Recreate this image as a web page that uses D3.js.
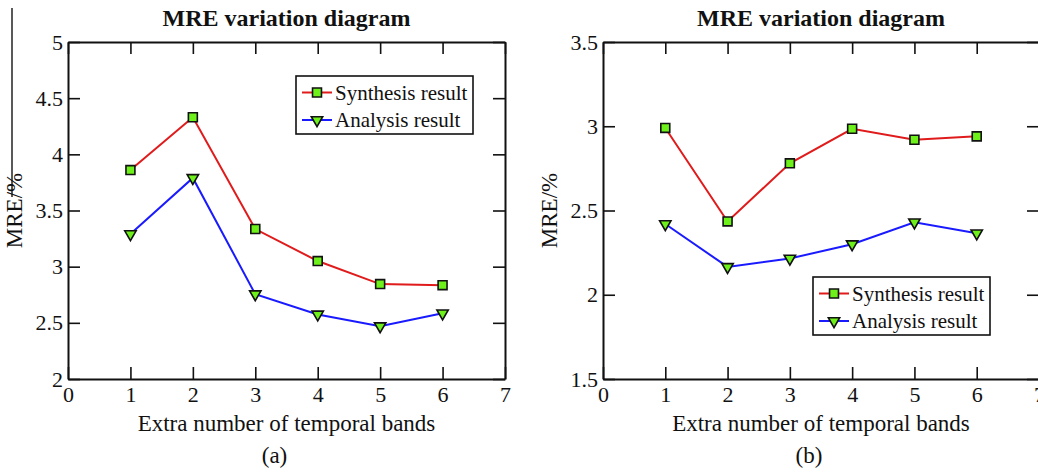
<!DOCTYPE html>
<html>
<head>
<meta charset="utf-8">
<script src="https://cdn.jsdelivr.net/npm/d3@7"></script>
<style>
  body { margin: 0; background: #fff; }
  svg text { font-family: "Liberation Serif", "Times New Roman", serif; fill: #111; }
</style>
</head>
<body>
<div id="chart"></div>
<script>
// values
const bands = [1, 2, 3, 4, 5, 6];
const xTicks = [0, 1, 2, 3, 4, 5, 6, 7];

const synthesisA = [3.86, 4.33, 3.335, 3.05, 2.845, 2.835];
const analysisA = [3.29, 3.79, 2.755, 2.575, 2.47, 2.585];
const yTicksA = [2, 2.5, 3, 3.5, 4, 4.5, 5];

const synthesisB = [2.99, 2.435, 2.78, 2.985, 2.92, 2.94];
const analysisB = [2.42, 2.165, 2.215, 2.30, 2.43, 2.365];
const yTicksB = [1.5, 2, 2.5, 3, 3.5];

const seriesNames = ["Synthesis result", "Analysis result"];
const seriesColors = ["#e01b1b", "#1a1aff"];
const markerFill = "#6ef01a";

const svg = d3.select("#chart").append("svg")
    .attr("width", 1038)
    .attr("height", 473);

// stray frame line at the far left of the original figure
svg.append("line")
    .attr("x1", 12).attr("x2", 12)
    .attr("y1", 8).attr("y2", 197)
    .attr("stroke", "#222")
    .attr("stroke-width", 1.5);

const squareSym = d3.symbol().type(d3.symbolSquare).size(80);
const triSym = d3.symbol().type(d3.symbolTriangle).size(56);

function drawMarker(g, kind, x, y) {
    g.append("path")
        .attr("d", kind === 0 ? squareSym() : triSym())
        .attr("transform", `translate(${x},${y})` + (kind === 1 ? " rotate(180)" : ""))
        .attr("fill", markerFill)
        .attr("stroke", "#111")
        .attr("stroke-width", 1.6);
}

function drawPanel(cfg) {
    const g = svg.append("g");
    const x = d3.scaleLinear().domain([0, 7]).range([cfg.left, cfg.right]);
    const y = d3.scaleLinear().domain(cfg.yDomain).range([379, 42]);

    // bottom axis with labels, ticks pointing inward
    const bottom = g.append("g")
        .attr("transform", `translate(0,${y.range()[0]})`)
        .call(d3.axisBottom(x).tickValues(xTicks).tickSizeInner(-12).tickSizeOuter(0).tickPadding(7)
            .tickFormat(d3.format("d")));
    const left = g.append("g")
        .attr("transform", `translate(${cfg.left},0)`)
        .call(d3.axisLeft(y).tickValues(cfg.yTicks).tickSizeInner(-12).tickSizeOuter(0).tickPadding(5)
            .tickFormat(d3.format("")));
    const top = g.append("g")
        .attr("transform", `translate(0,${y.range()[1]})`)
        .call(d3.axisTop(x).tickValues(xTicks).tickSizeInner(-12).tickSizeOuter(0).tickFormat(""));
    const right = g.append("g")
        .attr("transform", `translate(${cfg.right},0)`)
        .call(d3.axisRight(y).tickValues(cfg.yTicks).tickSizeInner(-12).tickSizeOuter(0).tickFormat(""));

    [bottom, left, top, right].forEach(a => {
        a.attr("font-family", null).attr("font-size", null);
        a.select(".domain").attr("stroke", "#111").attr("stroke-width", 2);
        a.selectAll(".tick line").attr("stroke", "#111").attr("stroke-width", 1.6);
        a.selectAll("text").style("font-size", "22px").attr("fill", "#111");
    });

    // lines + markers
    const line = d3.line().x((d, i) => x(bands[i])).y(d => y(d));
    cfg.series.forEach((vals, k) => {
        g.append("path")
            .datum(vals)
            .attr("fill", "none")
            .attr("stroke", seriesColors[k])
            .attr("stroke-width", 2)
            .attr("d", line);
    });
    cfg.series.forEach((vals, k) => {
        vals.forEach((v, i) => drawMarker(g, k, x(bands[i]), y(v)));
    });

    // title
    const cx = (cfg.left + cfg.right) / 2;
    g.append("text")
        .attr("x", cx).attr("y", 26)
        .attr("text-anchor", "middle")
        .style("font-size", "24px")
        .style("font-weight", "bold")
        .text("MRE variation diagram");

    g.append("text")
        .attr("x", cx).attr("y", 431)
        .attr("text-anchor", "middle")
        .style("font-size", "23px")
        .text("Extra number of temporal bands");

    g.append("text")
        .attr("transform", `translate(${cfg.left - 46},${(y.range()[0] + y.range()[1]) / 2}) rotate(-90)`)
        .attr("text-anchor", "middle")
        .style("font-size", "23px")
        .text("MRE/%");

    g.append("text")
        .attr("x", cx - 12).attr("y", 463)
        .attr("text-anchor", "middle")
        .style("font-size", "23px")
        .text(cfg.caption);

    // legend
    const lg = g.append("g").attr("transform", `translate(${cfg.legend[0]},${cfg.legend[1]})`);
    lg.append("rect")
        .attr("width", 177).attr("height", 58)
        .attr("fill", "#fff")
        .attr("stroke", "#111")
        .attr("stroke-width", 1.6);
    seriesNames.forEach((name, k) => {
        const ry = 16.5 + k * 27.5;
        lg.append("line")
            .attr("x1", 6).attr("x2", 36)
            .attr("y1", ry).attr("y2", ry)
            .attr("stroke", seriesColors[k])
            .attr("stroke-width", 2);
        drawMarker(lg, k, 21, ry);
        lg.append("text")
            .attr("x", 39).attr("y", ry + 7)
            .style("font-size", "21px")
            .text(name);
    });
}

drawPanel({
    left: 68, right: 505,
    yDomain: [2, 5], yTicks: yTicksA,
    series: [synthesisA, analysisA],
    legend: [296, 76],
    caption: "(a)"
});

drawPanel({
    left: 603, right: 1039,
    yDomain: [1.5, 3.5], yTicks: yTicksB,
    series: [synthesisB, analysisB],
    legend: [813, 277],
    caption: "(b)"
});
</script>
</body>
</html>
